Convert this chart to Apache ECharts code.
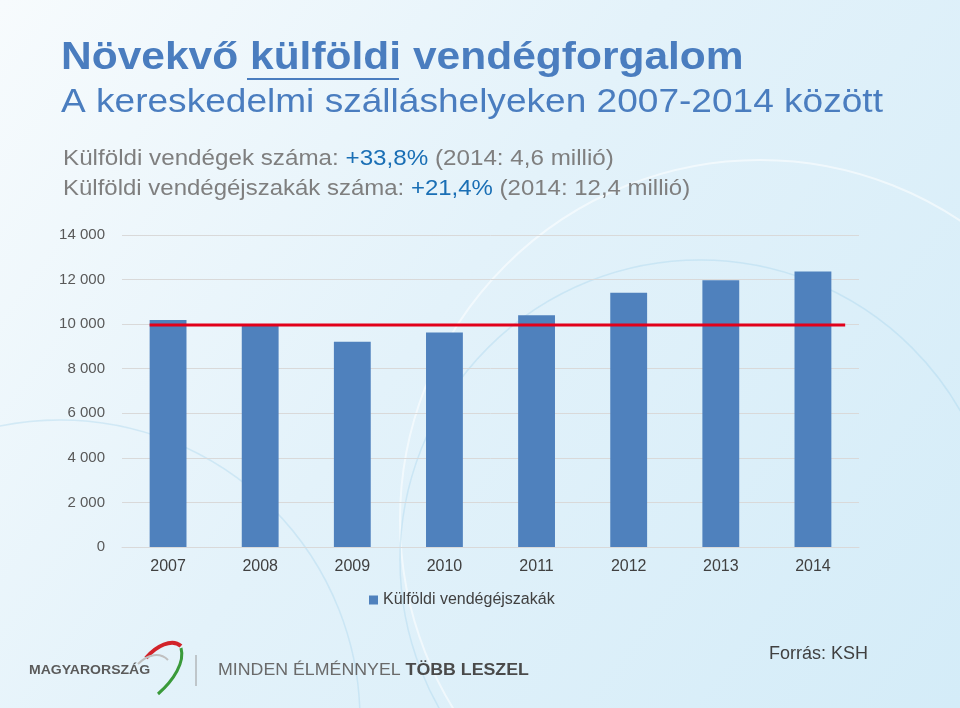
<!DOCTYPE html>
<html>
<head>
<meta charset="utf-8">
<script src="https://cdn.jsdelivr.net/npm/echarts@6/dist/echarts.min.js"></script>
<style>
html,body{margin:0;padding:0;background:#eaf5fb;}
#chart{width:960px;height:708px;}
</style>
</head>
<body>
<div id="chart"></div>
<script>
// ---- data ----
var years = ['2007','2008','2009','2010','2011','2012','2013','2014'];
var nights = [10190, 10000, 9210, 9620, 10400, 11410, 11970, 12360];
var seriesName = 'Külföldi vendégéjszakák';
var referenceLevel = 9960;          // red reference line value
var referenceSpan = [-0.2, 7.35];   // red line extent, in category units
var yTicks = [0, 2000, 4000, 6000, 8000, 10000, 12000, 14000];

var font = '"Liberation Sans", Arial, sans-serif';
var chart = echarts.init(document.getElementById('chart'), null, {renderer: 'canvas'});

function fmt(v) {
  return String(v).replace(/\B(?=(\d{3})+(?!\d))/g, ' ');
}
function txt(x, y, sx, style) {
  style.verticalAlign = 'top';
  return {type: 'text', x: x, y: y, scaleX: sx, originX: 0, originY: 0, style: style};
}

var option = {
  backgroundColor: {
    type: 'linear', x: 0, y: 0, x2: 1, y2: 1,
    colorStops: [
      {offset: 0, color: '#f7fbfd'},
      {offset: 0.45, color: '#e3f2fa'},
      {offset: 1, color: '#d4ecf8'}
    ]
  },
  textStyle: {fontFamily: font},
  animation: false,
  grid: {left: 122, right: 101, top: 235, bottom: 161},
  legend: {
    data: [seriesName],
    left: 364, top: 587,
    icon: 'rect', itemWidth: 9, itemHeight: 9, itemGap: 6,
    textStyle: {fontSize: 16, color: '#404040', fontFamily: font}
  },
  xAxis: [{
    type: 'category',
    data: years,
    axisLine: {show: true, lineStyle: {color: '#d9d9d9', width: 1}},
    axisTick: {show: false},
    axisLabel: {color: '#404040', fontSize: 16, margin: 12, fontFamily: font}
  }, {
    type: 'value',
    min: -0.5, max: 7.5,
    show: false
  }],
  yAxis: {
    type: 'value',
    min: yTicks[0], max: yTicks[yTicks.length - 1], interval: 2000,
    axisLine: {show: false},
    axisTick: {show: false},
    splitLine: {lineStyle: {color: '#d9d9d9', width: 1}},
    axisLabel: {color: '#595959', fontSize: 15, margin: 17, fontFamily: font, formatter: fmt}
  },
  series: [{
    name: seriesName,
    type: 'bar',
    xAxisIndex: 0,
    barWidth: '40%',
    itemStyle: {color: '#4f81bd'},
    data: nights
  }, {
    name: 'ref',
    type: 'line',
    xAxisIndex: 1,
    symbol: 'none',
    lineStyle: {color: '#e2001a', width: 3},
    data: referenceSpan.map(function (x) { return [x, referenceLevel]; }),
    z: 5
  }],
  graphic: [
    // decorative background arcs
    {type: 'circle', shape: {cx: 760, cy: 520, r: 360}, style: {fill: 'none', stroke: 'rgba(255,255,255,0.55)', lineWidth: 2}, silent: true, z: -10},
    {type: 'circle', shape: {cx: 700, cy: 560, r: 300}, style: {fill: 'none', stroke: 'rgba(160,210,235,0.35)', lineWidth: 1.5}, silent: true, z: -10},
    {type: 'circle', shape: {cx: 60, cy: 720, r: 300}, style: {fill: 'none', stroke: 'rgba(160,210,235,0.35)', lineWidth: 1.5}, silent: true, z: -10},
    // title
    txt(61, 39, 1.09, {text: 'Növekvő külföldi vendégforgalom', fill: '#4a7dbf', font: 'bold 39px ' + font}),
    {type: 'line', shape: {x1: 247, y1: 79, x2: 399, y2: 79}, style: {stroke: '#4a7dbf', lineWidth: 2}},
    txt(61, 86, 1.09, {text: 'A kereskedelmi szálláshelyeken 2007-2014 között', fill: '#4a7dbf', font: '34px ' + font}),
    txt(63, 148, 1.1, {
      rich: {
        g: {fill: '#7f7f7f', font: '22px ' + font},
        b: {fill: '#1a6fb5', font: '22px ' + font}
      },
      text: '{g|Külföldi vendégek száma: }{b|+33,8%}{g| (2014: 4,6 millió)}'
    }),
    txt(63, 178, 1.09, {
      rich: {
        g: {fill: '#7f7f7f', font: '22px ' + font},
        b: {fill: '#1a6fb5', font: '22px ' + font}
      },
      text: '{g|Külföldi vendégéjszakák száma: }{b|+21,4%}{g| (2014: 12,4 millió)}'
    }),
    // footer
    txt(29, 664, 1.08, {text: 'MAGYARORSZÁG', fill: '#5a5a5a', font: 'bold 13px ' + font}),
    {type: 'bezierCurve', shape: {x1: 146, y1: 658, cpx1: 156, cpy1: 646, cpx2: 172, cpy2: 638, x2: 181, y2: 646}, style: {stroke: '#d2232a', lineWidth: 4, fill: 'none'}},
    {type: 'bezierCurve', shape: {x1: 181, y1: 648, cpx1: 185, cpy1: 662, cpx2: 174, cpy2: 680, x2: 158, y2: 694}, style: {stroke: '#3a9a3a', lineWidth: 3, fill: 'none'}},
    {type: 'bezierCurve', shape: {x1: 138, y1: 664, cpx1: 148, cpy1: 654, cpx2: 160, cpy2: 652, x2: 168, y2: 660}, style: {stroke: '#c0c0c0', lineWidth: 2, fill: 'none'}},
    {type: 'line', shape: {x1: 196, y1: 655, x2: 196, y2: 686}, style: {stroke: '#9a9a9a', lineWidth: 1}},
    txt(218, 662, 1.045, {
      rich: {
        l: {fill: '#6a6a6a', font: '17px ' + font},
        d: {fill: '#4a4a4a', font: 'bold 17px ' + font}
      },
      text: '{l|MINDEN ÉLMÉNNYEL }{d|TÖBB LESZEL}'
    }),
    txt(769, 645, 1, {text: 'Forrás: KSH', fill: '#404040', font: '18px ' + font})
  ]
};
chart.setOption(option);
</script>
</body>
</html>
